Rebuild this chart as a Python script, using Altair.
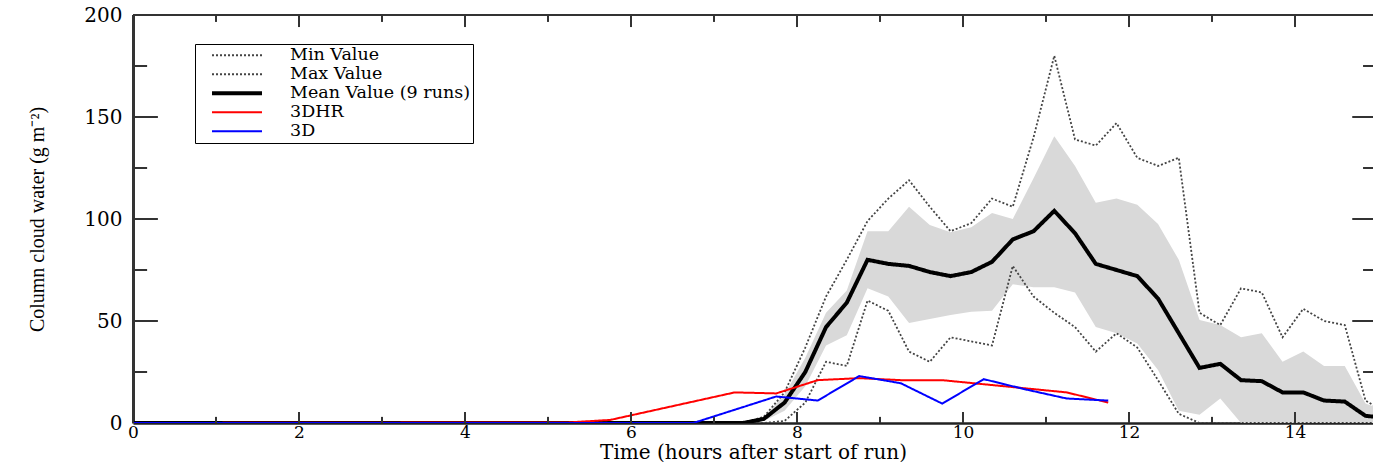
import altair as alt
import pandas as pd

# ---- data ----
times = [0, 7.35, 7.6, 7.85, 8.1, 8.35, 8.6, 8.85, 9.1, 9.35, 9.6, 9.85, 10.1, 10.35,
         10.6, 10.85, 11.1, 11.35, 11.6, 11.85, 12.1, 12.35, 12.6, 12.85, 13.1, 13.35,
         13.6, 13.85, 14.1, 14.35, 14.6, 14.85, 15.1]
mean_vals = [0, 0, 2, 10, 25, 47, 59, 80, 78, 77, 74, 72, 74, 79, 90, 94, 104, 93, 78,
             75, 72, 61, 44, 27, 29, 21, 20.5, 15, 15, 11, 10.5, 3.5, 2.5]
max_vals = [0, 0, 3, 15, 37, 62, 80, 99, 110, 119, 106, 94, 98, 110, 106, 140, 180, 139,
            136, 147, 130, 126, 130, 54, 48, 66, 64, 42, 56, 50, 48, 11, 5]
min_vals = [0, 0, 0, 1, 10, 30, 28, 60, 55, 35, 30, 42, 40, 38, 77, 62, 54, 47, 35, 44,
            37, 21, 4.5, 0, 0, 0, 0, 0, 0, 0, 0, 0, 0]
band_upper = [0, 0, 3, 14, 32, 54, 65, 94, 94, 106, 97, 93.5, 96, 103, 100, 120, 140.6,
              126, 108, 110, 107, 97.5, 80, 50.5, 48, 42, 44, 30, 35, 28, 28, 9.5, 6]
band_lower = [0, 0, 1, 6, 18, 38, 43, 66, 62, 49, 51, 53, 54.5, 55, 68, 66.5, 66.5, 64,
              47, 44, 39, 26, 6, 4, 12, 0, 0, 0, 0, 0, 0, 0, 0]

hr_times = [0, 5.25, 5.75, 7.25, 7.75, 8.25, 8.75, 9.25, 9.75, 10.25, 10.75, 11.25, 11.75]
hr_vals = [0, 0.3, 1.5, 15, 14.5, 21, 22, 21, 21, 19, 17, 15, 10]
d3_times = [0, 6.75, 7.25, 7.75, 8.25, 8.75, 9.25, 9.75, 10.25, 10.75, 11.25, 11.75]
d3_vals = [0, 0, 6.5, 13, 11, 23, 19.5, 9.5, 21.5, 16.5, 12, 11]

series_names = ["Min Value", "Max Value", "Mean Value (9 runs)", "3DHR", "3D"]
series_colors = ["#444444", "#444444", "#000000", "#ff0000", "#0000ff"]
series_dash = [[2, 2], [2, 2], [1, 0], [1, 0], [1, 0]]
series_width = [1.8, 1.8, 4, 2, 2]

x_major = [0, 2, 4, 6, 8, 10, 12, 14]
x_minor = [1, 3, 5, 7, 9, 11, 13]
y_major = [0, 50, 100, 150, 200]
y_minor = [25, 75, 125, 175]

XMAX = 14.94
YMAX = 200

# ---- tables built from the lists ----
rows = []
for name, ts, vs in [("Min Value", times, min_vals), ("Max Value", times, max_vals),
                     ("Mean Value (9 runs)", times, mean_vals),
                     ("3DHR", hr_times, hr_vals), ("3D", d3_times, d3_vals)]:
    for t, v in zip(ts, vs):
        rows.append({"time": t, "value": v, "series": name})
lines_df = pd.DataFrame(rows)
band_df = pd.DataFrame({"time": times, "upper": band_upper, "lower": band_lower})

tick_rows = []
for t in x_major:
    tick_rows.append({"x": t, "x2": t, "y": 0, "y2": 5.4})
    tick_rows.append({"x": t, "x2": t, "y": YMAX, "y2": YMAX - 5.9})
for t in x_minor:
    tick_rows.append({"x": t, "x2": t, "y": 0, "y2": 3.0})
    tick_rows.append({"x": t, "x2": t, "y": YMAX, "y2": YMAX - 3.4})
for v in y_major[1:-1]:
    tick_rows.append({"x": 0, "x2": 0.3, "y": v, "y2": v})
    tick_rows.append({"x": XMAX - 0.25, "x2": XMAX, "y": v, "y2": v})
for v in y_minor:
    tick_rows.append({"x": 0, "x2": 0.17, "y": v, "y2": v})
    tick_rows.append({"x": XMAX - 0.12, "x2": XMAX, "y": v, "y2": v})
ticks_df = pd.DataFrame(tick_rows)

# ---- scales / axes ----
xscale = alt.Scale(domain=[0, XMAX], nice=False, zero=False)
yscale = alt.Scale(domain=[0, YMAX], nice=False)

xaxis = alt.Axis(values=x_major, ticks=False, grid=False, format="d",
                 labelFont="DejaVu Serif", labelFontSize=17, labelColor="black",
                 labelPadding=1, labelFlush=False,
                 domainColor="#222222", domainWidth=2.5,
                 title="Time (hours after start of run)", titleFont="DejaVu Serif",
                 titleFontSize=20, titleFontWeight="normal", titleColor="black",
                 titleBaseline="alphabetic", titleY=35)
yaxis = alt.Axis(values=y_major, ticks=False, grid=False, format="d",
                 labelFont="DejaVu Serif", labelFontSize=20, labelColor="black",
                 labelPadding=11, labelFlush=False,
                 domainColor="#333333", domainWidth=3,
                 title="Column cloud water (g m⁻²)", titleFont="Liberation Serif",
                 titleFontSize=20, titleFontWeight="normal", titleColor="black",
                 titleAngle=270, titleAlign="center", titleBaseline="middle",
                 titleX=-96, titleY=204)

band = alt.Chart(band_df).mark_area(color="#d9d9d9", clip=True).encode(
    x=alt.X("time:Q", scale=xscale, axis=xaxis),
    y=alt.Y("upper:Q", scale=yscale, axis=yaxis),
    y2="lower:Q",
)

legend = alt.Legend(title=None, orient="none", legendX=62, legendY=29,
                    symbolType="stroke", symbolSize=2500, clipHeight=18.5,
                    labelFont="DejaVu Serif", labelFontSize=17.5, labelColor="black",
                    labelOffset=26, padding=2, symbolOffset=13, rowPadding=0,
                    strokeColor="black", fillColor="white", labelLimit=500)

lines = alt.Chart(lines_df).mark_line(clip=True).encode(
    x=alt.X("time:Q", scale=xscale, axis=xaxis),
    y=alt.Y("value:Q", scale=yscale, axis=yaxis),
    color=alt.Color("series:N", scale=alt.Scale(domain=series_names, range=series_colors),
                    legend=legend),
    strokeDash=alt.StrokeDash("series:N", scale=alt.Scale(domain=series_names, range=series_dash),
                              legend=legend),
    strokeWidth=alt.StrokeWidth("series:N",
                                scale=alt.Scale(type="ordinal", domain=series_names,
                                                range=series_width),
                                legend=legend),
    order=alt.Order("time:Q"),
)

ticks = alt.Chart(ticks_df).mark_rule(color="#333333", strokeWidth=2).encode(
    x=alt.X("x:Q", scale=xscale, axis=xaxis),
    x2="x2:Q",
    y=alt.Y("y:Q", scale=yscale, axis=yaxis),
    y2="y2:Q",
)

top_border = alt.Chart(band_df).mark_rule(color="#333333", strokeWidth=2).encode(
    y=alt.datum(YMAX, scale=yscale),
)

chart = alt.layer(band, lines, ticks, top_border).properties(
    width=1240, height=408,
    autosize=alt.AutoSizeParams(type="none"),
    padding={"left": 133, "top": 15, "right": 0, "bottom": 39},
).configure_view(stroke=None).configure(background="white")

chart.save("out.html", embed_options={"renderer": "svg", "actions": False})
